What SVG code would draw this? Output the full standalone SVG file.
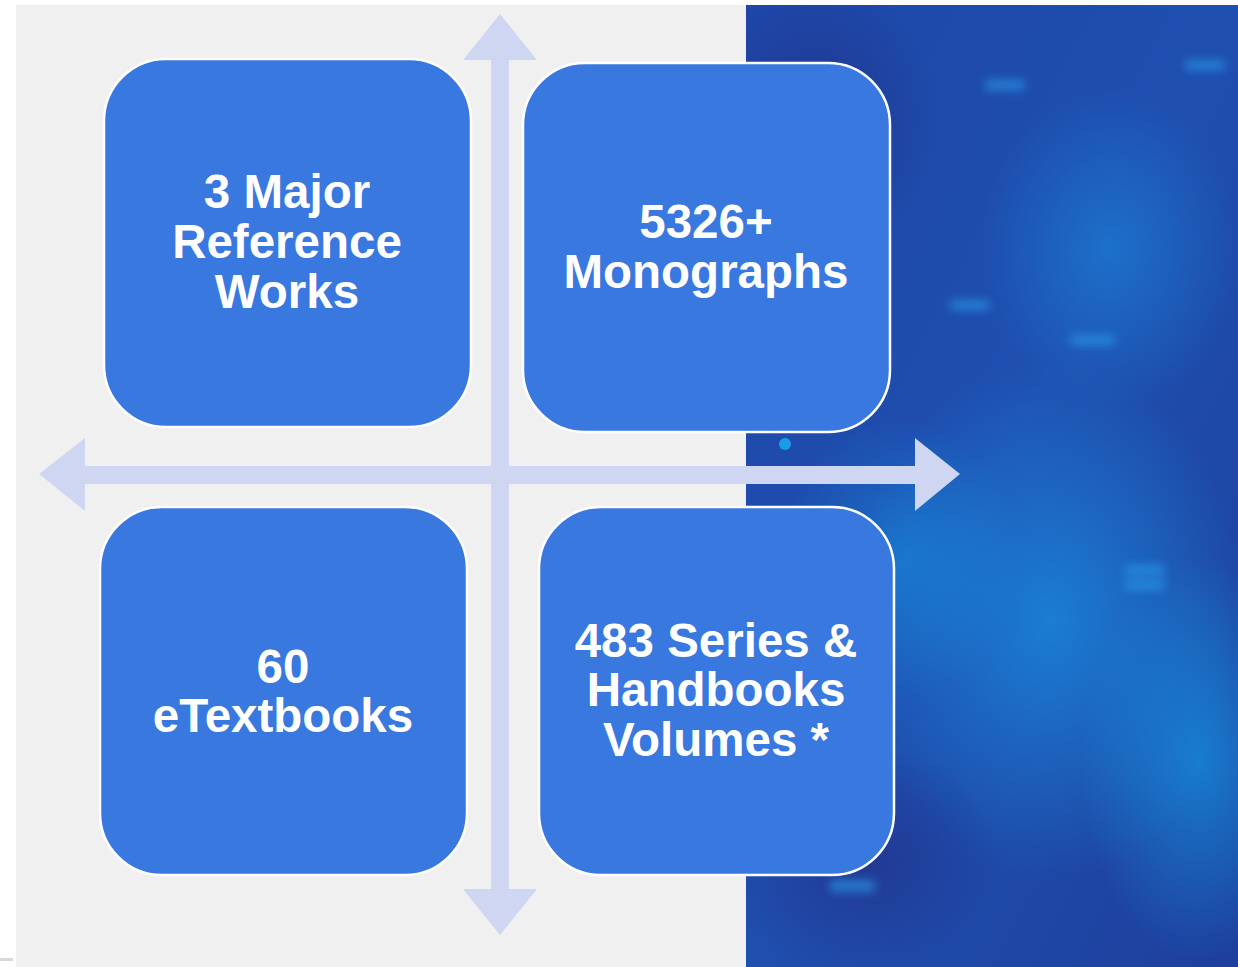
<svg xmlns="http://www.w3.org/2000/svg" width="1238" height="967" viewBox="0 0 1238 967">
  <defs>
    <style>
      .box { fill: #3878df; stroke: #ffffff; stroke-width: 2.5; }
      .lbl { font-family: "Liberation Sans", Arial, sans-serif; font-weight: bold; font-size: 47.5px; fill: #ffffff; text-anchor: middle; }
      .arr { fill: #cfd6f2; }
    </style>
    <clipPath id="photoClip">
      <rect x="746" y="5" width="492" height="962"/>
    </clipPath>
    <linearGradient id="bgBlue" x1="0" y1="0" x2="1" y2="1">
      <stop offset="0" stop-color="#1d47a8"/>
      <stop offset="0.5" stop-color="#1f4fb0"/>
      <stop offset="1" stop-color="#1e3f9c"/>
    </linearGradient>
    <radialGradient id="glow1" cx="0.5" cy="0.5" r="0.5">
      <stop offset="0" stop-color="#1a8ee0" stop-opacity="0.75"/>
      <stop offset="1" stop-color="#1a8ee0" stop-opacity="0"/>
    </radialGradient>
    <radialGradient id="glow2" cx="0.5" cy="0.5" r="0.5">
      <stop offset="0" stop-color="#14a0ea" stop-opacity="0.6"/>
      <stop offset="1" stop-color="#14a0ea" stop-opacity="0"/>
    </radialGradient>
    <radialGradient id="dark1" cx="0.5" cy="0.5" r="0.5">
      <stop offset="0" stop-color="#22338c" stop-opacity="0.8"/>
      <stop offset="1" stop-color="#22338c" stop-opacity="0"/>
    </radialGradient>
    <filter id="blur" x="-20%" y="-20%" width="140%" height="140%">
      <feGaussianBlur stdDeviation="5"/>
    </filter>
  </defs>

  <!-- backgrounds -->
  <rect x="0" y="0" width="1238" height="967" fill="#ffffff"/>
  <rect x="16" y="5" width="730" height="962" fill="#f0f0f0"/>
  <rect x="0" y="958" width="13" height="3" fill="#d8d8d8"/>
  <g id="photo" clip-path="url(#photoClip)">
    <rect x="746" y="5" width="492" height="962" fill="url(#bgBlue)"/>
    <ellipse cx="1050" cy="620" rx="200" ry="260" fill="url(#glow1)"/>
    <ellipse cx="1200" cy="760" rx="120" ry="200" fill="url(#glow2)"/>
    <ellipse cx="1110" cy="250" rx="130" ry="160" fill="url(#glow1)" opacity="0.7"/>
    <ellipse cx="900" cy="560" rx="120" ry="140" fill="url(#glow2)" opacity="0.7"/>
    <ellipse cx="860" cy="860" rx="140" ry="120" fill="url(#dark1)"/>
    <ellipse cx="820" cy="120" rx="120" ry="140" fill="url(#dark1)"/>
    <g fill="#2aa3ee" opacity="0.6" filter="url(#blur)">
      <rect x="1125" y="565" width="40" height="10" rx="4"/>
      <rect x="1125" y="580" width="40" height="10" rx="4"/>
      <rect x="1070" y="335" width="45" height="10" rx="4"/>
      <rect x="950" y="300" width="40" height="10" rx="4"/>
      <rect x="830" y="880" width="45" height="12" rx="4"/>
      <rect x="985" y="80" width="40" height="10" rx="4"/>
      <rect x="1185" y="60" width="40" height="10" rx="4"/>
    </g>
    <circle cx="785" cy="444" r="6" fill="#1aa6ee" opacity="0.9"/>
  </g>

  <!-- connectors -->
  <g id="connectors">
    <g id="arrow-horizontal" class="arr">
      <polygon points="39,474 85,438 85,466 915,466 915,438 960,474 915,511 915,484 85,484 85,511"/>
    </g>
    <g id="arrow-vertical" class="arr">
      <polygon points="500,14 537,60 509,60 509,889 537,889 500,935 463,889 491,889 491,60 463,60"/>
    </g>
  </g>

  <!-- nodes -->
  <g id="node-reference">
    <rect class="box" x="104" y="59" width="367" height="368" rx="62" ry="62"/>
    <text class="lbl" x="287" y="208">3 Major</text>
    <text class="lbl" x="287" y="258">Reference</text>
    <text class="lbl" x="287" y="308">Works</text>
  </g>
  <g id="node-monographs">
    <rect class="box" x="523" y="63" width="367" height="369" rx="62" ry="62"/>
    <text class="lbl" x="706" y="238">5326+</text>
    <text class="lbl" x="706" y="288">Monographs</text>
  </g>
  <g id="node-etextbooks">
    <rect class="box" x="100" y="507" width="367" height="368" rx="62" ry="62"/>
    <text class="lbl" x="283" y="683">60</text>
    <text class="lbl" x="283" y="732">eTextbooks</text>
  </g>
  <g id="node-series">
    <rect class="box" x="539" y="507" width="355" height="368" rx="62" ry="62"/>
    <text class="lbl" x="716" y="657">483 Series &amp;</text>
    <text class="lbl" x="716" y="706">Handbooks</text>
    <text class="lbl" x="716" y="756">Volumes *</text>
  </g>
</svg>
